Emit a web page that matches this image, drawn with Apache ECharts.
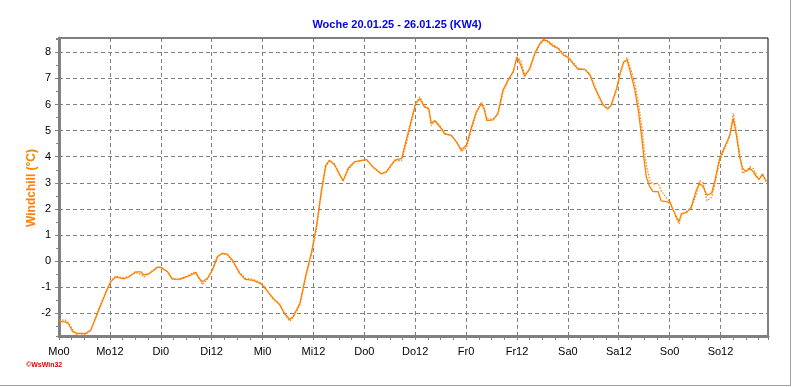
<!DOCTYPE html>
<html>
<head>
<meta charset="utf-8">
<script src="https://cdn.jsdelivr.net/npm/echarts@6/dist/echarts.min.js"></script>
<style>
html,body{margin:0;padding:0;background:#fff;}
#chart{width:792px;height:387px;}
</style>
</head>
<body>
<div id="chart"></div>
<script>
const titleText = 'Woche 20.01.25 - 26.01.25 (KW4)';
const yName = 'Windchill (°C)';
const dayNames = ['Mo', 'Di', 'Mi', 'Do', 'Fr', 'Sa', 'So'];

// hours since Monday 00:00
const hours = [0,1.5,2.2,3.2,4.3,6.3,7.5,9.4,11,12.2,13.4,15.3,16.5,18.1,19.3,20,21.2,23.2,24,25.6,26.7,28.3,29.5,30.7,32.2,33,33.8,35,36.2,37.4,38.5,39.7,40.9,42.5,43.9,45.8,47.7,48.9,50.5,52,53.2,54.4,55.2,56.8,58.3,59.5,60.7,61.9,62.9,63.8,65,66,67,68.2,69.7,70.9,72.5,74,76,77.2,79.2,80.8,81.9,83.1,84.1,85.1,86.2,87.2,87.8,88.6,89.8,91,92.5,93.7,94.9,96.1,97.3,98.4,99.6,100.2,100.9,102.4,103.5,104.7,105.9,107.1,108,108.9,109.8,111,112.2,113.4,114.3,115.3,116.5,117.7,118.9,120,121.2,122.4,124,125.2,126.4,127.5,128.3,129.4,130.2,131.5,132.4,133.2,134,134.8,135.8,136.6,137.4,138,138.5,139.3,140.1,141.3,142,143.3,144.2,144.8,145.6,146.2,146.8,148,149.1,150.3,151.1,151.9,152.8,153.9,154.7,155.8,157,158.2,159,159.8,160.5,161.2,162,162.9,163.7,164.5,165.1,165.9,166.8];

const windchill = [-2.32,-2.33,-2.40,-2.70,-2.77,-2.77,-2.64,-1.87,-1.23,-0.79,-0.60,-0.68,-0.60,-0.41,-0.41,-0.53,-0.49,-0.24,-0.24,-0.41,-0.69,-0.69,-0.62,-0.57,-0.44,-0.66,-0.79,-0.66,-0.34,0.17,0.30,0.27,0.04,-0.45,-0.70,-0.74,-0.87,-1.10,-1.42,-1.67,-2.00,-2.23,-2.13,-1.62,-0.47,0.30,1.32,2.72,3.68,3.87,3.68,3.36,3.08,3.56,3.81,3.84,3.90,3.62,3.34,3.43,3.87,3.94,4.64,5.41,6.05,6.22,5.90,5.85,5.28,5.38,5.15,4.87,4.83,4.57,4.26,4.45,5.15,5.72,6.02,5.85,5.38,5.41,5.66,6.56,6.94,7.26,7.83,7.51,7.07,7.39,7.96,8.34,8.50,8.41,8.24,8.15,7.90,7.81,7.58,7.35,7.35,7.13,6.62,6.27,5.98,5.83,5.98,6.62,7.26,7.64,7.70,7.20,6.56,5.79,4.77,3.87,3.23,2.85,2.66,2.66,2.31,2.28,2.21,1.96,1.70,1.51,1.83,1.86,2.08,2.72,2.98,2.85,2.53,2.60,3.10,3.94,4.38,4.83,5.47,4.77,4.00,3.56,3.43,3.56,3.43,3.23,3.13,3.34,3.04];

const windchillDotted = [-2.26,-2.26,-2.35,-2.62,-2.85,-2.80,-2.66,-1.82,-1.18,-0.76,-0.58,-0.64,-0.58,-0.44,-0.50,-0.62,-0.47,-0.22,-0.24,-0.40,-0.66,-0.72,-0.66,-0.52,-0.40,-0.62,-0.90,-0.70,-0.30,0.20,0.30,0.24,-0.02,-0.40,-0.66,-0.70,-0.84,-1.08,-1.46,-1.62,-2.04,-2.30,-2.16,-1.70,-0.55,0.22,1.22,2.62,3.60,3.84,3.72,3.40,3.05,3.50,3.80,3.84,3.88,3.60,3.36,3.40,3.85,3.85,4.50,5.30,6.00,6.30,5.95,5.80,5.18,5.40,5.20,4.90,4.80,4.60,4.19,4.35,5.05,5.65,6.10,5.95,5.45,5.45,5.62,6.45,6.90,7.22,7.80,7.70,7.15,7.30,7.90,8.30,8.45,8.45,8.30,8.18,7.95,7.85,7.62,7.40,7.35,7.18,6.70,6.20,6.00,5.85,5.95,6.55,7.20,7.60,7.80,7.40,6.80,6.10,5.20,4.30,3.70,3.10,2.95,2.98,2.70,2.42,2.25,2.00,1.62,1.42,1.78,1.90,2.02,2.55,3.10,3.00,2.31,2.45,2.95,3.85,4.30,4.80,5.66,4.95,4.15,3.36,3.45,3.62,3.55,3.28,3.15,3.30,3.08];

const solidData = hours.map((h, i) => [h, windchill[i]]);
const dottedData = hours.map((h, i) => [h, windchillDotted[i]]);

const chart = echarts.init(document.getElementById('chart'), null, {renderer: 'canvas'});
const FONT = 'Liberation Sans, Arial, sans-serif';
const GRID = {left: 59, right: 24, top: 38, bottom: 51};
const yMin = -2.87, yMax = 8.55;

chart.setOption({
  animation: false,
  backgroundColor: '#fff',
  graphic: [
    {type: 'text', x: 397, y: 25, z: 100,
      style: {text: titleText, fill: '#0000ee', font: 'bold 11px ' + FONT, align: 'center', verticalAlign: 'middle'}},
    {type: 'text', left: 26, top: 362, style: {text: '©WsWin32', fill: '#e00000', font: 'bold 7px ' + FONT}},
    {type: 'text', x: 32, y: 188, rotation: Math.PI / 2,
      style: {text: yName, fill: '#ff8000', font: 'bold 12px ' + FONT, align: 'center', verticalAlign: 'middle'}},
    {type: 'line', shape: {x1: 790.5, y1: 0, x2: 790.5, y2: 386}, style: {stroke: '#a0a0a0', lineWidth: 1}},
    {type: 'line', shape: {x1: 0, y1: 385.5, x2: 791, y2: 385.5}, style: {stroke: '#a0a0a0', lineWidth: 1}}
  ],
  grid: Object.assign({show: true, borderColor: '#000', borderWidth: 1, backgroundColor: '#fff'}, GRID),
  xAxis: {
    type: 'value',
    min: 0,
    max: 167.2,
    interval: 12,
    axisLine: {show: true, onZero: false, lineStyle: {color: '#808080', width: 3}},
    axisTick: {show: true, length: 4, lineStyle: {color: '#808080', width: 1}},
    minorTick: {show: true, splitNumber: 4, length: 4, lineStyle: {color: '#808080', width: 1}},
    axisLabel: {
      show: true, margin: 10, color: '#000', fontSize: 11, fontFamily: FONT,
      showMaxLabel: false,
      formatter: v => dayNames[Math.floor(v / 24)] + (v % 24)
    },
    splitLine: {show: true, showMinLine: false, showMaxLine: false, lineStyle: {color: '#808080', type: [4, 3], width: 1}}
  },
  yAxis: [{
    type: 'value',
    min: yMin,
    max: yMax,
    splitNumber: 11,
    axisLine: {show: true, onZero: false, lineStyle: {color: '#808080', width: 3}},
    axisTick: {show: true, length: 4, lineStyle: {color: '#808080', width: 1}},
    axisLabel: {show: true, margin: 8, color: '#000', fontSize: 11, fontFamily: FONT, showMinLabel: false, showMaxLabel: false},
    splitLine: {show: true, showMinLine: false, showMaxLine: false, lineStyle: {color: '#808080', type: [4, 3], width: 1}}
  }, {
    type: 'value',
    min: yMin,
    max: yMax,
    splitNumber: 22,
    position: 'left',
    axisLine: {show: false},
    axisTick: {show: true, length: 3, lineStyle: {color: '#808080', width: 1}},
    axisLabel: {show: false},
    splitLine: {show: false}
  }],
  series: [{
    type: 'line',
    data: dottedData,
    showSymbol: false,
    smooth: false,
    lineStyle: {color: '#ff8000', width: 1.2, type: [1.5, 1.5]},
    z: 3
  }, {
    type: 'line',
    data: solidData,
    showSymbol: false,
    smooth: false,
    lineStyle: {color: '#ff8000', width: 1.3},
    z: 4
  }]
});
</script>
</body>
</html>
